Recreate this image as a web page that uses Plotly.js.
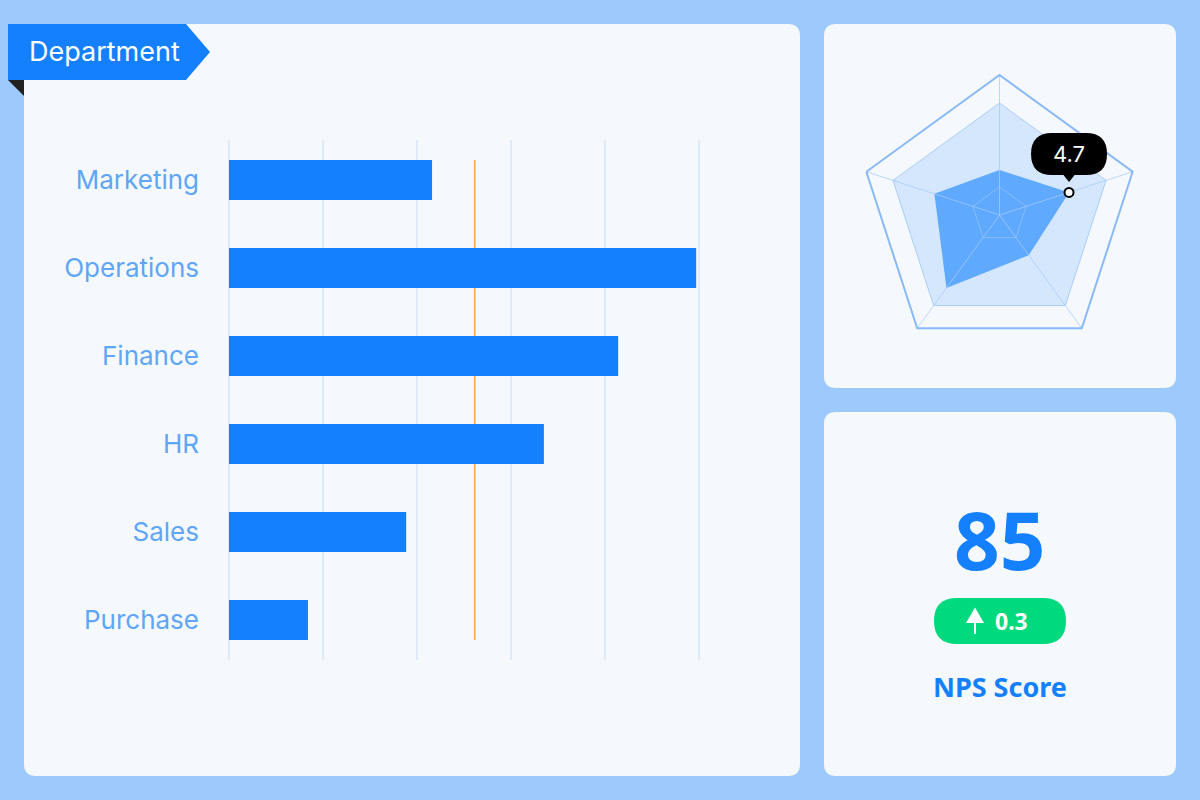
<!DOCTYPE html>
<html>
<head>
<meta charset="utf-8">
<script src="https://cdn.plot.ly/plotly-3.0.1.min.js"></script>
<style>html,body{margin:0;padding:0;background:#9dc9fc;}#chart{width:1200px;height:800px;}</style>
</head>
<body>
<div id="chart"></div>
<script>
// ---- data ----
const departments = ['Marketing', 'Operations', 'Finance', 'HR', 'Sales', 'Purchase'];
const deptValues = [43.2, 99.4, 82.8, 67.0, 37.7, 16.8];
const averageValue = 52.3;
const xTicks = [0, 20, 40, 60, 80, 100];

const radarAxes = ['Quality', 'Service', 'Value', 'Speed', 'Support'];
const radarValues = [2.9, 4.7, 3.2, 5.8, 4.4];
const radarMax = 9;
const radarRings = [1.8, 7.2, 9];
const highlightIndex = 1;

const npsScore = 85;
const npsChange = 0.3;
const npsLabel = 'NPS Score';
const panelTitle = 'Department';

// ---- helpers (layout positions in pixels -> paper fractions) ----
const W = 1200, H = 800;
const fx = x => x / W, fy = y => 1 - y / H;
function pt(x, y) { return fx(x).toFixed(5) + ',' + fy(y).toFixed(5); }
function rrect(x0, y0, x1, y1, r) {
  return 'M' + pt(x0 + r, y0) + ' L' + pt(x1 - r, y0) + ' Q' + pt(x1, y0) + ' ' + pt(x1, y0 + r) +
    ' L' + pt(x1, y1 - r) + ' Q' + pt(x1, y1) + ' ' + pt(x1 - r, y1) +
    ' L' + pt(x0 + r, y1) + ' Q' + pt(x0, y1) + ' ' + pt(x0, y1 - r) +
    ' L' + pt(x0, y0 + r) + ' Q' + pt(x0, y0) + ' ' + pt(x0 + r, y0) + ' Z';
}
function poly(points) {
  return 'M' + points.map(p => pt(p[0], p[1])).join(' L') + ' Z';
}

const blue = '#1480fe';
const panelBg = '#f5f9fe';

// radar geometry
const rcx = 999.5, rcy = 215, rR = 140;
const polarDomain = { x: [fx(rcx - rR), fx(rcx + rR)], y: [fy(rcy + rR), fy(rcy - rR)] };
// position of highlighted point, derived from its data value
const hAng = (90 - highlightIndex * 360 / radarAxes.length) * Math.PI / 180;
const hpx = rcx + radarValues[highlightIndex] / radarMax * rR * Math.cos(hAng);
const hpy = rcy - radarValues[highlightIndex] / radarMax * rR * Math.sin(hAng);

const closedAxes = radarAxes.concat([radarAxes[0]]);
const ring = v => radarAxes.map(() => v).concat([v]);

const traces = [
  {
    type: 'bar', orientation: 'h', x: deptValues, y: departments,
    width: 0.4545, marker: { color: blue }, hoverinfo: 'none', xaxis: 'x', yaxis: 'y'
  },
  {
    type: 'scatterpolar', subplot: 'polar', theta: closedAxes, r: ring(radarRings[1]),
    mode: 'lines', fill: 'toself', fillcolor: 'rgba(100,170,250,0.22)',
    line: { color: '#a9cdfb', width: 1 }, hoverinfo: 'none'
  },
  {
    type: 'scatterpolar', subplot: 'polar', theta: closedAxes,
    r: radarValues.concat([radarValues[0]]),
    mode: 'lines', fill: 'toself', fillcolor: 'rgba(20,129,255,0.61)',
    line: { color: 'rgba(20,129,255,0.0)', width: 0 }, hoverinfo: 'none'
  },
  // inner ring and spokes drawn above the fills
  {
    type: 'scatterpolar', subplot: 'polar', theta: closedAxes, r: ring(radarRings[0]),
    mode: 'lines', line: { color: 'rgba(170,206,251,0.55)', width: 1 }, hoverinfo: 'none'
  }
].concat(radarAxes.map(a => ({
  type: 'scatterpolar', subplot: 'polar', theta: [a, a], r: [0, radarMax],
  mode: 'lines', line: { color: 'rgba(165,203,251,0.75)', width: 1 }, hoverinfo: 'none'
}))).concat([
  {
    type: 'scatterpolar', subplot: 'polar', theta: [radarAxes[highlightIndex]],
    r: [radarValues[highlightIndex]], mode: 'markers',
    marker: { size: 9, color: '#ffffff', line: { color: '#000000', width: 2 } }, hoverinfo: 'none'
  }
]);

const shapes = [
  // panels
  { type: 'path', xref: 'paper', yref: 'paper', layer: 'below', path: rrect(24, 24, 800, 776, 12), fillcolor: panelBg, line: { width: 0 } },
  { type: 'path', xref: 'paper', yref: 'paper', layer: 'below', path: rrect(824, 24, 1176, 388, 12), fillcolor: panelBg, line: { width: 0 } },
  { type: 'path', xref: 'paper', yref: 'paper', layer: 'below', path: rrect(824, 412, 1176, 776, 12), fillcolor: panelBg, line: { width: 0 } },
  // ribbon
  { type: 'path', xref: 'paper', yref: 'paper', layer: 'above', path: poly([[8, 24], [186, 24], [210, 52], [186, 80], [8, 80]]), fillcolor: blue, line: { width: 0 } },
  { type: 'path', xref: 'paper', yref: 'paper', layer: 'above', path: poly([[8, 80], [24, 80], [24, 96]]), fillcolor: '#222222', line: { width: 0 } },
  // average line
  { type: 'line', xref: 'x', yref: 'y', layer: 'between', x0: averageValue, x1: averageValue, y0: -0.2273, y1: departments.length - 1 + 0.2273, line: { color: '#f7a935', width: 1.5 } },
  // tooltip bubble
  { type: 'path', xref: 'paper', yref: 'paper', layer: 'above', path: rrect(hpx - 38, hpy - 59.5, hpx + 38, hpy - 17.5, 21), fillcolor: '#000000', line: { width: 0 } },
  { type: 'path', xref: 'paper', yref: 'paper', layer: 'above', path: poly([[hpx - 6, hpy - 18], [hpx + 6, hpy - 18], [hpx, hpy - 10.5]]), fillcolor: '#000000', line: { width: 0 } },
  // NPS pill
  { type: 'path', xref: 'paper', yref: 'paper', layer: 'above', path: rrect(934, 598, 1066, 644, 23), fillcolor: '#00d97e', line: { width: 0 } },
  { type: 'path', xref: 'paper', yref: 'paper', layer: 'above', path: poly([[966, 623], [984, 623], [975, 607.5]]), fillcolor: '#ffffff', line: { width: 0 } },
  { type: 'line', xref: 'paper', yref: 'paper', layer: 'above', x0: fx(975), x1: fx(975), y0: fy(620), y1: fy(634), line: { color: '#ffffff', width: 2 } }
];

const annotations = [
  { xref: 'paper', yref: 'paper', x: fx(27), y: fy(52), xanchor: 'left', yanchor: 'middle', showarrow: false, text: panelTitle, font: { family: 'Inter, sans-serif', size: 27, color: '#ffffff' } },
  { xref: 'paper', yref: 'paper', x: fx(hpx), y: fy(hpy - 38.5), xanchor: 'center', yanchor: 'middle', showarrow: false, text: radarValues[highlightIndex].toFixed(1), font: { family: 'Inter, sans-serif', size: 22, color: '#ffffff' } },
  { xref: 'paper', yref: 'paper', x: fx(1000), y: fy(538), xanchor: 'center', yanchor: 'middle', showarrow: false, text: '<b>' + npsScore + '</b>', font: { family: 'Noto Sans, sans-serif', size: 80, color: blue } },
  { xref: 'paper', yref: 'paper', x: fx(1011), y: fy(621), xanchor: 'center', yanchor: 'middle', showarrow: false, text: '<b>' + npsChange.toFixed(1) + '</b>', font: { family: 'Noto Sans, sans-serif', size: 23, color: '#ffffff' } },
  { xref: 'paper', yref: 'paper', x: fx(1000), y: fy(686), xanchor: 'center', yanchor: 'middle', showarrow: false, text: '<b>' + npsLabel + '</b>', font: { family: 'Noto Sans, sans-serif', size: 27, color: blue } }
];

const xPad = 3 / 4.7;
const layout = {
  width: W, height: H,
  margin: { l: 0, r: 0, t: 0, b: 0, pad: 0 },
  paper_bgcolor: '#9dc9fc', plot_bgcolor: 'rgba(0,0,0,0)',
  showlegend: false,
  font: { family: 'Inter, sans-serif' },
  xaxis: {
    domain: [fx(226), fx(702)], range: [-xPad, 100 + xPad], tickvals: xTicks,
    showgrid: true, gridcolor: '#dfebfa', gridwidth: 2, zeroline: false,
    showticklabels: false, ticks: '', showline: false, fixedrange: true
  },
  yaxis: {
    domain: [fy(660), fy(140)], type: 'category', categoryorder: 'array', categoryarray: departments,
    range: [departments.length - 1 + 0.4545, -0.4545],
    showgrid: false, zeroline: false, showline: false, ticks: '',
    ticklabelstandoff: 26,
    tickfont: { family: 'Inter, sans-serif', size: 26, color: '#60a6f7' }, fixedrange: true
  },
  polar: {
    domain: polarDomain, bgcolor: 'rgba(0,0,0,0)', gridshape: 'linear',
    radialaxis: { range: [0, radarMax], tickvals: radarRings, showticklabels: false, ticks: '', showline: false, showgrid: false },
    angularaxis: { rotation: 90, direction: 'clockwise', categoryorder: 'array', categoryarray: radarAxes, showticklabels: false, ticks: '', showline: true, linecolor: '#8ab9f8', linewidth: 2, showgrid: false }
  },
  shapes: shapes,
  annotations: annotations
};

Plotly.newPlot('chart', traces, layout, { displayModeBar: false, staticPlot: true });
</script>
</body>
</html>
